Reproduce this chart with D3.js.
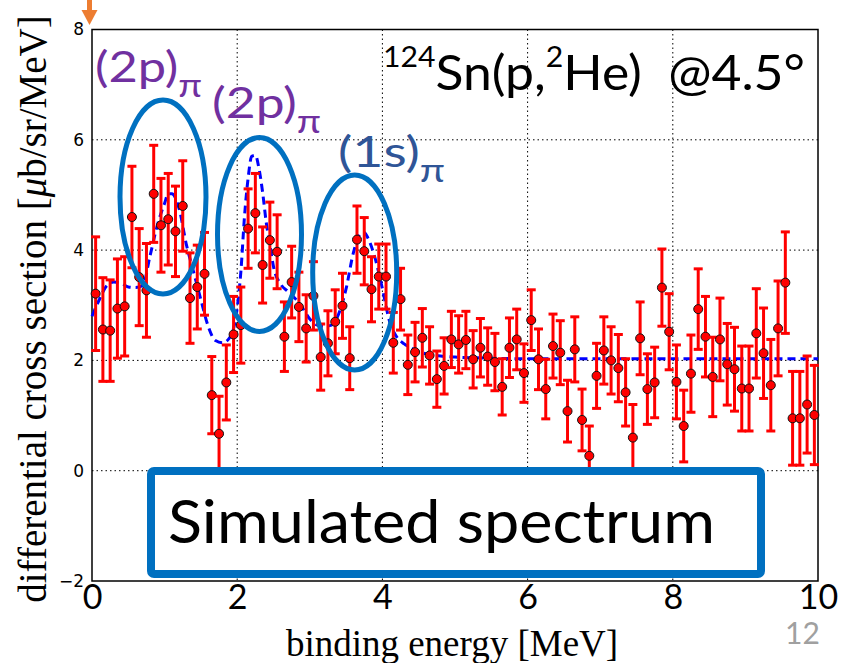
<!DOCTYPE html>
<html>
<head>
<meta charset="utf-8">
<script src="https://cdn.jsdelivr.net/npm/d3@7"></script>
<style>
  body { margin: 0; background: #fff; }
  svg { display: block; }
</style>
</head>
<body>
<svg id="chart" width="854" height="663"></svg>
<script>
// measured spectrum, 0.1 MeV bins
var energy = [0.05, 0.15, 0.25, 0.35, 0.45, 0.55, 0.65, 0.75, 0.85, 0.95,
  1.05, 1.15, 1.25, 1.35, 1.45, 1.55, 1.65, 1.75, 1.85, 1.95,
  2.05, 2.15, 2.25, 2.35, 2.45, 2.55, 2.65, 2.75, 2.85, 2.95,
  3.05, 3.15, 3.25, 3.35, 3.45, 3.55, 3.65, 3.75, 3.85, 3.95,
  4.05, 4.15, 4.25, 4.35, 4.45, 4.55, 4.65, 4.75, 4.85, 4.95,
  5.05, 5.15, 5.25, 5.35, 5.45, 5.55, 5.65, 5.75, 5.85, 5.95,
  6.05, 6.15, 6.25, 6.35, 6.45, 6.55, 6.65, 6.75, 6.85, 6.95,
  7.05, 7.15, 7.25, 7.35, 7.45, 7.55, 7.65, 7.75, 7.85, 7.95,
  8.05, 8.15, 8.25, 8.35, 8.45, 8.55, 8.65, 8.75, 8.85, 8.95,
  9.05, 9.15, 9.25, 9.35, 9.45, 9.55, 9.65, 9.75, 9.85, 9.95];
var crossSection = [3.21, 2.56, 2.54, 2.94, 2.98, 4.60, 3.51, 3.27, 5.02, 4.45,
  4.56, 4.34, 4.80, 3.13, 3.33, 3.57, 1.37, 0.67, 1.60, 2.47,
  2.64, 4.39, 4.67, 3.73, 4.18, 3.97, 2.43, 3.42, 2.97, 2.58,
  3.17, 2.06, 2.31, 2.70, 2.99, 2.04, 4.19, 3.98, 3.29, 3.52,
  3.52, 2.32, 3.11, 1.92, 2.15, 2.41, 2.09, 1.66, 1.90, 2.38,
  2.29, 2.37, 2.02, 2.23, 2.07, 1.97, 1.52, 2.23, 2.38, 1.77,
  2.73, 2.02, 1.48, 2.26, 2.14, 1.08, 2.20, 0.92, 0.27, 1.72,
  2.18, 2.00, 1.86, 1.42, 0.60, 2.40, 1.48, 1.60, 3.32, 2.52,
  1.61, 0.81, 1.76, 2.93, 2.43, 1.70, 2.38, 1.93, 1.84, 1.49,
  1.49, 2.49, 2.13, 1.55, 2.58, 3.41, 0.95, 0.95, 1.20, 1.01];
var errors = [1.03, 0.94, 0.92, 0.90, 0.90, 0.92, 0.88, 0.85, 0.88, 0.85,
  0.83, 0.82, 0.82, 0.82, 0.76, 0.75, 0.70, 0.68, 0.68, 0.69,
  0.69, 0.72, 0.72, 0.69, 0.69, 0.67, 0.63, 0.65, 0.63, 0.61,
  0.62, 0.60, 0.59, 0.58, 0.59, 0.57, 0.61, 0.61, 0.59, 0.59,
  0.59, 0.55, 0.56, 0.54, 0.54, 0.53, 0.52, 0.51, 0.51, 0.51,
  0.52, 0.52, 0.52, 0.53, 0.52, 0.52, 0.51, 0.54, 0.55, 0.53,
  0.55, 0.55, 0.54, 0.58, 0.58, 0.56, 0.59, 0.56, 0.54, 0.59,
  0.61, 0.61, 0.61, 0.61, 0.60, 0.66, 0.64, 0.64, 0.70, 0.69,
  0.67, 0.65, 0.70, 0.73, 0.73, 0.72, 0.75, 0.74, 0.76, 0.77,
  0.77, 0.81, 0.82, 0.83, 0.86, 0.92, 0.85, 0.85, 0.88, 0.90];

// simulated spectrum (dashed curve)
var simEnergy = [0.0, 0.1, 0.2, 0.3, 0.4, 0.5, 0.6, 0.7, 0.8, 0.9, 1.0, 1.05, 1.1, 1.2, 1.3, 1.4, 1.5,
  1.6, 1.7, 1.8, 1.9, 2.0, 2.05, 2.1, 2.15, 2.2, 2.25, 2.3, 2.35, 2.4, 2.45, 2.5, 2.6, 2.7, 2.8,
  2.9, 3.0, 3.1, 3.2, 3.3, 3.4, 3.5, 3.6, 3.7, 3.75, 3.8, 3.9, 4.0, 4.1, 4.2, 4.3, 4.4, 4.6, 4.8,
  5.0, 5.5, 6.0, 7.0, 8.0, 9.0, 10.0];
var simValue = [2.80, 3.10, 3.35, 3.42, 3.40, 3.33, 3.32, 3.36, 3.90, 4.45, 4.85, 5.02, 5.02, 4.75,
  4.10, 3.60, 3.10, 2.62, 2.36, 2.32, 2.42, 2.95, 3.60, 4.60, 5.30, 5.70, 5.72, 5.48, 5.05, 4.50,
  4.10, 3.70, 3.38, 3.25, 3.12, 2.95, 2.75, 2.64, 2.62, 2.64, 2.85, 3.30, 3.95, 4.30, 4.32, 4.22,
  3.85, 3.30, 2.70, 2.42, 2.30, 2.22, 2.12, 2.08, 2.06, 2.04, 2.03, 2.03, 2.03, 2.03, 2.03];

var xTicks = [0, 2, 4, 6, 8, 10];
var yTicks = [-2, 0, 2, 4, 6, 8];

(function () {
  var svg = d3.select("#chart"),
    x = d3.scaleLinear().domain([0, 10]).range([92, 818]),
    y = d3.scaleLinear().domain([-2, 8]).range([581, 29.5]),
    slide = "Lato, 'Open Sans', sans-serif",
    serif = "'Liberation Serif', 'DejaVu Serif', serif";

  // stretch a text horizontally so it starts at x0 and is w wide
  function fit(sel, x0, w) {
    var b = sel.node().getBBox();
    sel.attr("transform", "translate(" + x0 + ",0) scale(" + (w / b.width) + ",1) translate(" + (-b.x) + ",0)");
  }

  // grid
  svg.append("g")
    .selectAll("line").data(xTicks.slice(1, -1)).enter().append("line")
    .attr("x1", function (d) { return x(d); }).attr("x2", function (d) { return x(d); })
    .attr("y1", y(8)).attr("y2", y(-2))
    .attr("stroke", "#000").attr("stroke-width", 1).attr("stroke-dasharray", "1.5,3");
  svg.append("g")
    .selectAll("line").data(yTicks.slice(1, -1)).enter().append("line")
    .attr("y1", function (d) { return y(d); }).attr("y2", function (d) { return y(d); })
    .attr("x1", x(0)).attr("x2", x(10))
    .attr("stroke", "#000").attr("stroke-width", 1).attr("stroke-dasharray", "1.5,3");

  // axes
  var yAxis = d3.axisLeft(y).tickValues(yTicks).tickSize(0).tickPadding(8)
    .tickFormat(function (d) { return d < 0 ? "\u2212" + Math.abs(d) : d; });
  var gy = svg.append("g").attr("transform", "translate(" + x(0) + ",0)").call(yAxis);
  gy.select(".domain").remove();
  gy.selectAll("text").attr("font-family", "'DejaVu Sans', sans-serif").attr("font-size", 17).attr("fill", "#000");

  var xAxis = d3.axisBottom(x).tickValues(xTicks).tickSize(0).tickPadding(4);
  var gx = svg.append("g").attr("transform", "translate(0," + y(-2) + ")").call(xAxis);
  gx.select(".domain").remove();
  gx.selectAll("text").attr("font-family", slide).attr("font-size", 34).attr("fill", "#000");

  svg.append("rect")
    .attr("x", x(0)).attr("y", y(8))
    .attr("width", x(10) - x(0)).attr("height", y(-2) - y(8))
    .attr("fill", "none").attr("stroke", "#000").attr("stroke-width", 1.5);

  // simulated curve
  var line = d3.line()
    .x(function (d, i) { return x(simEnergy[i]); })
    .y(function (d) { return y(d); })
    .curve(d3.curveMonotoneX);
  svg.append("path").datum(simValue)
    .attr("d", line)
    .attr("fill", "none").attr("stroke", "#0000ff").attr("stroke-width", 3)
    .attr("stroke-dasharray", "8,5");

  // error bars
  var pts = svg.append("g").selectAll("g").data(crossSection).enter().append("g");
  pts.append("line")
    .attr("x1", function (d, i) { return x(energy[i]); })
    .attr("x2", function (d, i) { return x(energy[i]); })
    .attr("y1", function (d, i) { return y(d + errors[i]); })
    .attr("y2", function (d, i) { return y(Math.max(d - errors[i], -2)); })
    .attr("stroke", "#ff0000").attr("stroke-width", 3);
  [1, -1].forEach(function (s) {
    pts.append("line")
      .attr("x1", function (d, i) { return x(energy[i]) - 4.5; })
      .attr("x2", function (d, i) { return x(energy[i]) + 4.5; })
      .attr("y1", function (d, i) { return y(d + s * errors[i]); })
      .attr("y2", function (d, i) { return y(d + s * errors[i]); })
      .attr("stroke", "#ff0000").attr("stroke-width", 3);
  });
  pts.append("circle")
    .attr("cx", function (d, i) { return x(energy[i]); })
    .attr("cy", function (d) { return y(d); })
    .attr("r", 4.5)
    .attr("fill", "#ff0000").attr("stroke", "#111").attr("stroke-width", 1);

  // axis labels
  svg.append("text")
    .attr("transform", "translate(46,309) rotate(-90)")
    .attr("text-anchor", "middle")
    .attr("font-family", serif).attr("font-size", 39)
    .html("differential cross section [<tspan font-style='italic'>\u03bc</tspan>b/sr/MeV]");
  svg.append("text")
    .attr("x", 452).attr("y", 656)
    .attr("text-anchor", "middle")
    .attr("font-family", serif).attr("font-size", 37)
    .text("binding energy [MeV]");
  svg.append("text")
    .attr("x", 785).attr("y", 644)
    .attr("font-family", slide).attr("font-size", 30).attr("fill", "#a0a0a0")
    .text("12");

  // slide annotations
  var ellipses = [[163, 197, 43, 97], [259.5, 234.5, 42, 97], [354.7, 272.5, 42, 97.5]];
  svg.append("g").selectAll("ellipse").data(ellipses).enter().append("ellipse")
    .attr("cx", function (d) { return d[0]; }).attr("cy", function (d) { return d[1]; })
    .attr("rx", function (d) { return d[2]; }).attr("ry", function (d) { return d[3]; })
    .attr("fill", "none").attr("stroke", "#0070c0").attr("stroke-width", 5);

  function orbital(px, py, w, label, color) {
    var t = svg.append("text").attr("x", px).attr("y", py)
      .attr("font-family", slide).attr("font-size", 42).attr("fill", color);
    t.append("tspan").text(label);
    t.append("tspan").attr("dy", 15).attr("font-size", 32).text("\u03c0");
    fit(t, px, w);
  }
  orbital(95, 82, 107, "(2p)", "#7030a0");
  orbital(212, 118, 109, "(2p)", "#7030a0");
  orbital(338, 167, 107, "(1s)", "#2f5597");

  var title = svg.append("text").attr("x", 383).attr("y", 90)
    .attr("font-family", slide).attr("font-size", 48).attr("fill", "#000");
  title.append("tspan").attr("font-size", 28).attr("dy", -23).text("124");
  title.append("tspan").attr("dy", 23).text("Sn(p,");
  title.append("tspan").attr("font-size", 28).attr("dy", -23).text("2");
  title.append("tspan").attr("dy", 23).text("He)\u00a0 @4.5\u00b0");
  fit(title, 383, 422);

  svg.append("rect")
    .attr("x", 151).attr("y", 471).attr("width", 610).attr("height", 103)
    .attr("rx", 3)
    .attr("fill", "#fff").attr("stroke", "#0070c0").attr("stroke-width", 8);
  var sim = svg.append("text")
    .attr("x", 168).attr("y", 543)
    .attr("font-family", slide).attr("font-size", 60).attr("fill", "#000")
    .text("Simulated spectrum");
  fit(sim, 168, 547);

  // orange marker arrow at top left
  svg.append("line").attr("x1", 89.5).attr("x2", 89.5).attr("y1", 0).attr("y2", 11)
    .attr("stroke", "#ed7d31").attr("stroke-width", 5);
  svg.append("path")
    .attr("d", d3.line()([[81.5, 10], [97.5, 10], [89.5, 25]]) + "Z")
    .attr("fill", "#ed7d31");
}());
</script>
</body>
</html>
